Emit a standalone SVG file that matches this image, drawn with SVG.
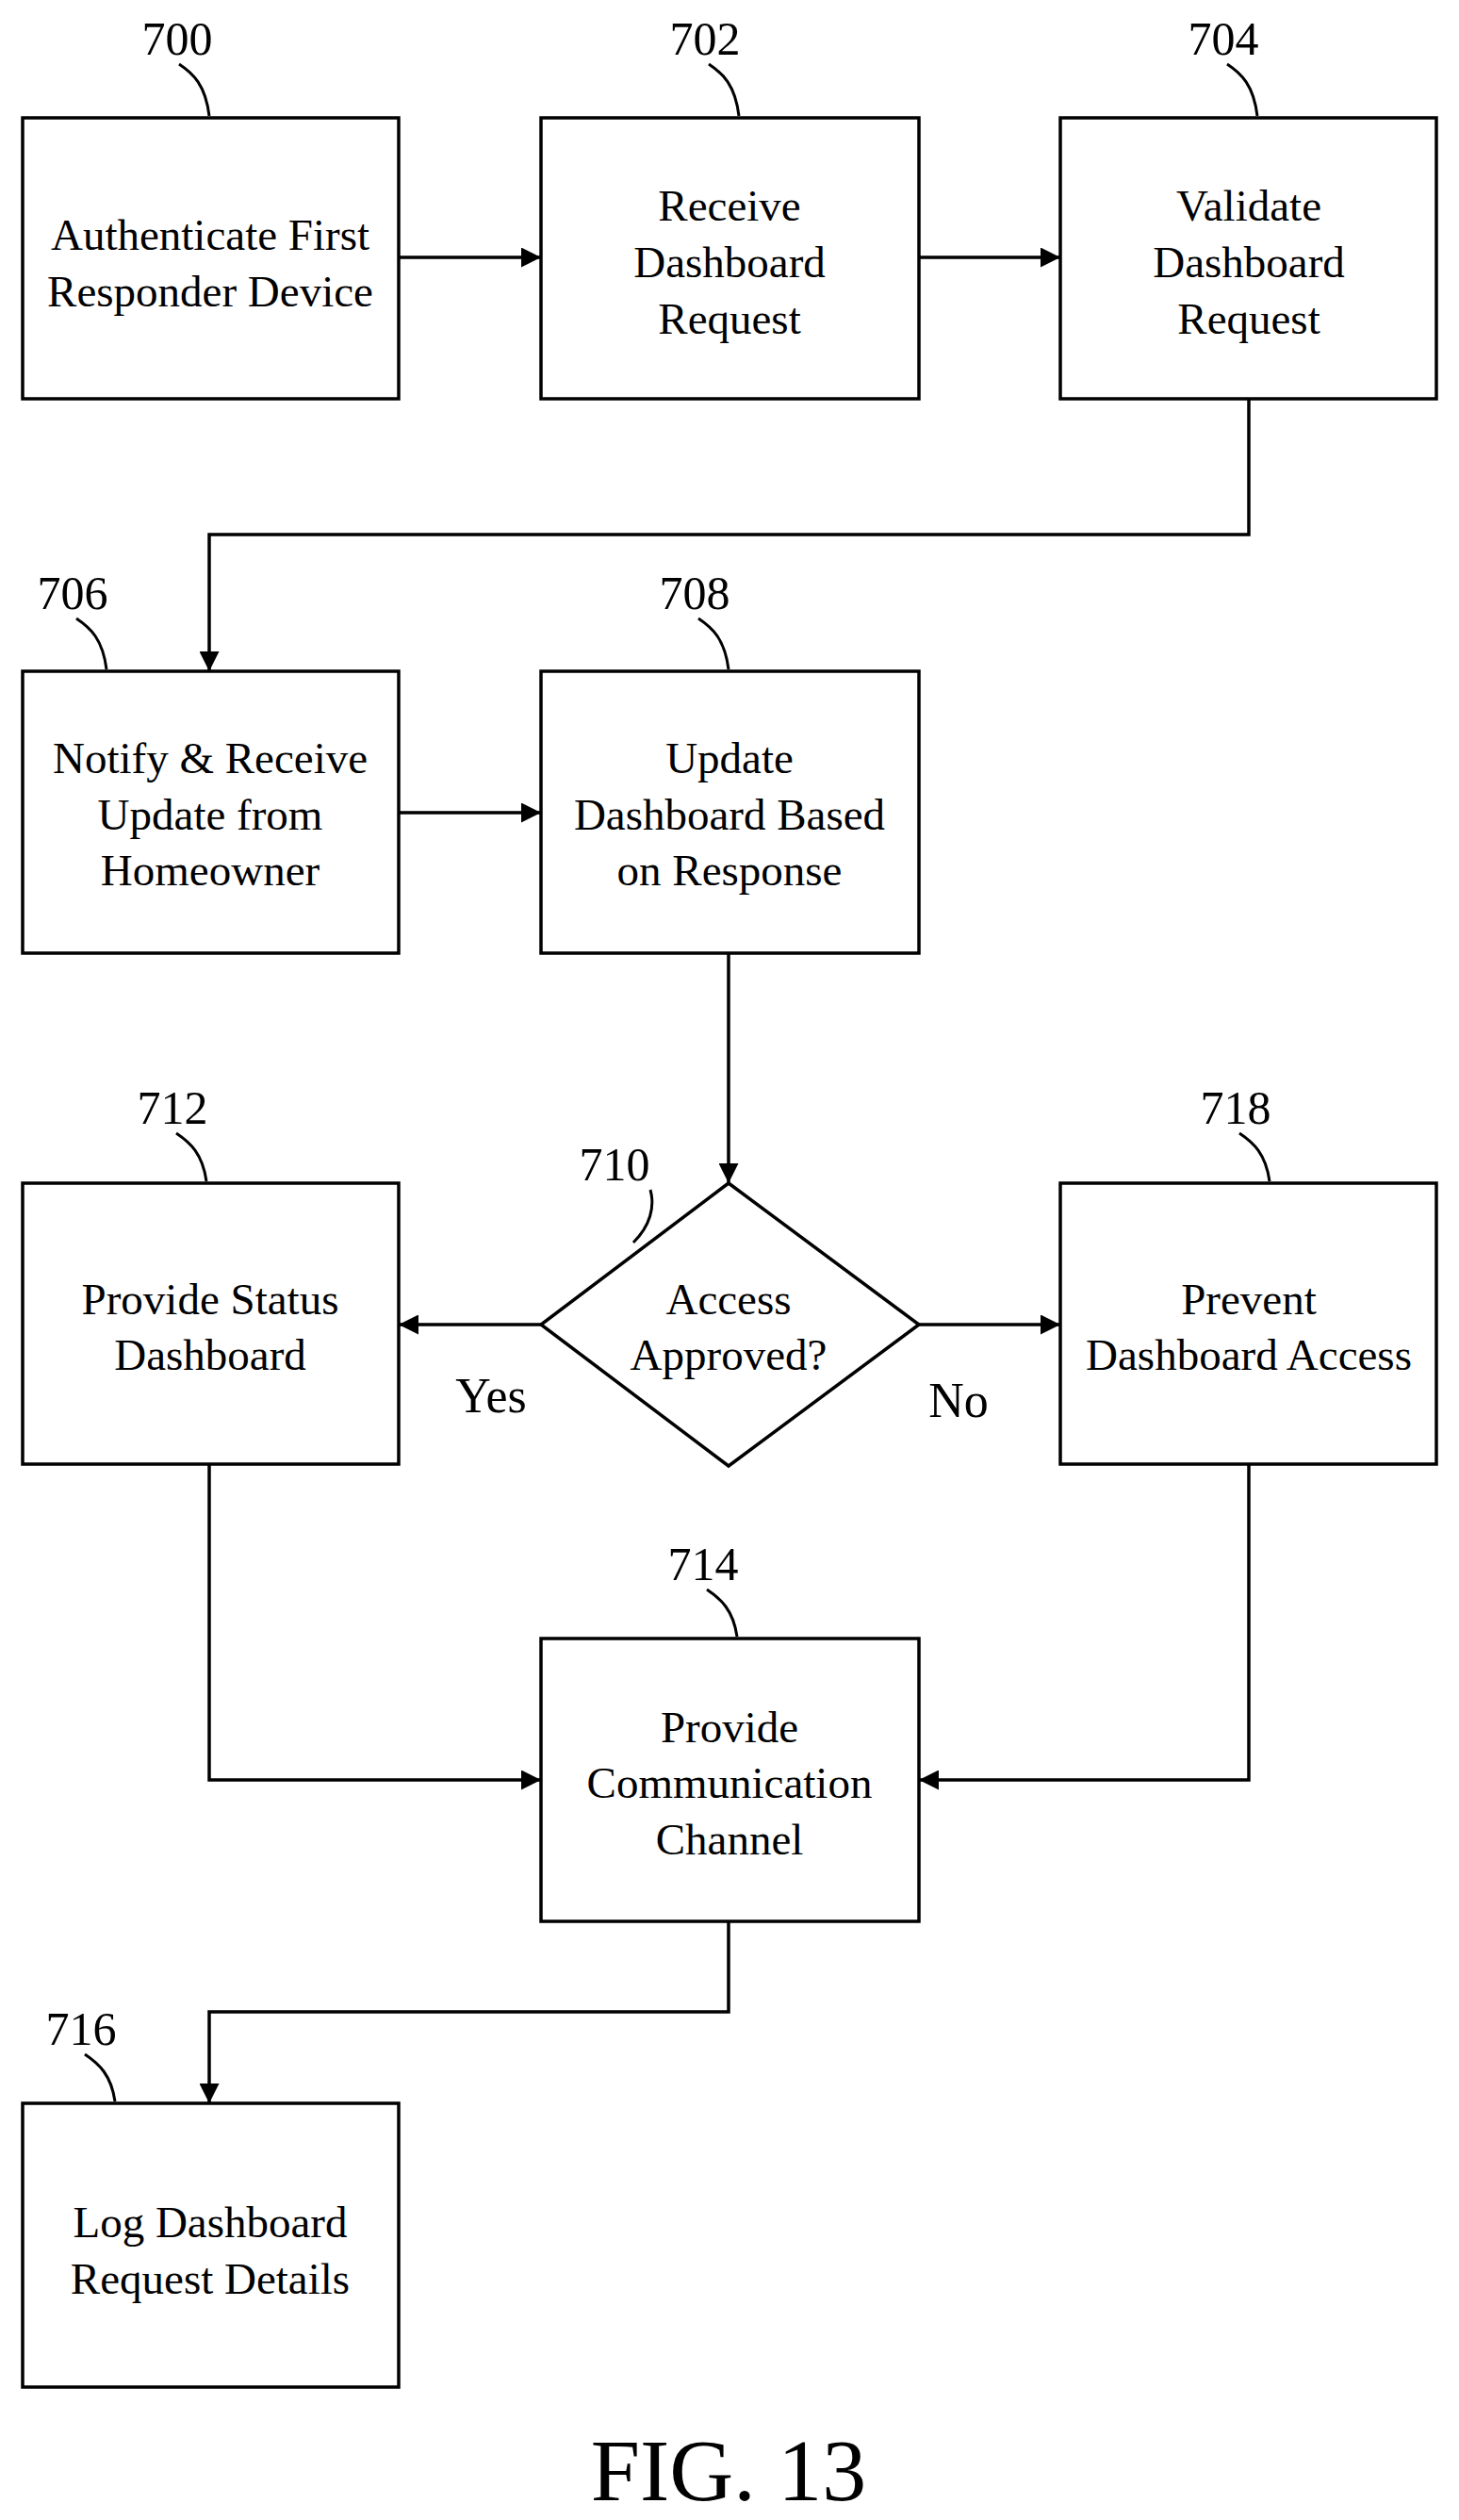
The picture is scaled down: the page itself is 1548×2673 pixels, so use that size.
<svg xmlns="http://www.w3.org/2000/svg" width="1548" height="2673" viewBox="0 0 1548 2673">
<style>
.b{fill:#fff;stroke:#000;stroke-width:3.5}
.t{font-family:"Liberation Serif",serif;font-size:47px;text-anchor:middle;dominant-baseline:central;fill:#000}
.y{font-family:"Liberation Serif",serif;font-size:52px;text-anchor:middle;dominant-baseline:central;fill:#000}
.n{font-family:"Liberation Serif",serif;font-size:50px;text-anchor:middle;dominant-baseline:central;fill:#000}
.c{fill:none;stroke:#000;stroke-width:3.5}
.l{fill:none;stroke:#000;stroke-width:3}
</style>
<defs><marker id="a" viewBox="0 0 10 10" refX="10" refY="5" markerWidth="8" markerHeight="6" orient="auto" markerUnits="strokeWidth"><path d="M0,0L10,5L0,10z" fill="#000"/></marker></defs>
<rect width="1548" height="2673" fill="#fff"/>
<g id="connectors">
<path class="c" d="M423,273H574" marker-end="url(#a)"/>
<path class="c" d="M975,273H1125" marker-end="url(#a)"/>
<path class="c" d="M1325,423V567H222V712" marker-end="url(#a)"/>
<path class="c" d="M423,862H574" marker-end="url(#a)"/>
<path class="c" d="M773,1011V1255" marker-end="url(#a)"/>
<path class="c" d="M574,1405H423" marker-end="url(#a)"/>
<path class="c" d="M975,1405H1125" marker-end="url(#a)"/>
<path class="c" d="M222,1553V1888H574" marker-end="url(#a)"/>
<path class="c" d="M1325,1553V1888H975" marker-end="url(#a)"/>
<path class="c" d="M773,2038V2134H222V2231" marker-end="url(#a)"/>
<text class="y" x="521" y="1480">Yes</text>
<text class="y" x="1017" y="1485">No</text>
</g>
<g id="n700"><rect class="b" x="24" y="125" width="399" height="298"/><text class="t" x="223" y="249">Authenticate First</text><text class="t" x="223" y="309">Responder Device</text><text class="n" x="188" y="41">700</text><path class="l" d="M190,68C205,78 218,90 222,123"/></g>
<g id="n702"><rect class="b" x="574" y="125" width="401" height="298"/><text class="t" x="774" y="218">Receive</text><text class="t" x="774" y="278">Dashboard</text><text class="t" x="774" y="338">Request</text><text class="n" x="748" y="41">702</text><path class="l" d="M752,68C767,78 780,90 784,123"/></g>
<g id="n704"><rect class="b" x="1125" y="125" width="399" height="298"/><text class="t" x="1325" y="218">Validate</text><text class="t" x="1325" y="278">Dashboard</text><text class="t" x="1325" y="338">Request</text><text class="n" x="1298" y="41">704</text><path class="l" d="M1302,68C1317,78 1330,90 1334,123"/></g>
<g id="n706"><rect class="b" x="24" y="712" width="399" height="299"/><text class="t" x="223" y="804">Notify &amp; Receive</text><text class="t" x="223" y="864">Update from</text><text class="t" x="223" y="923">Homeowner</text><text class="n" x="77" y="629">706</text><path class="l" d="M81,656C96,666 109,678 113,710"/></g>
<g id="n708"><rect class="b" x="574" y="712" width="401" height="299"/><text class="t" x="774" y="804">Update</text><text class="t" x="774" y="864">Dashboard Based</text><text class="t" x="774" y="923">on Response</text><text class="n" x="737" y="629">708</text><path class="l" d="M741,656C756,666 769,678 773,710"/></g>
<g id="n710"><path class="b" d="M773,1255L975,1405L773,1555L574,1405Z"/><text class="t" x="773" y="1378">Access</text><text class="t" x="773" y="1437">Approved?</text><text class="n" x="652" y="1235">710</text><path class="l" d="M690,1262C695,1280 690,1300 672,1318"/></g>
<g id="n712"><rect class="b" x="24" y="1255" width="399" height="298"/><text class="t" x="223" y="1378">Provide Status</text><text class="t" x="223" y="1437">Dashboard</text><text class="n" x="183" y="1175">712</text><path class="l" d="M187,1202C202,1212 215,1224 219,1253"/></g>
<g id="n718"><rect class="b" x="1125" y="1255" width="399" height="298"/><text class="t" x="1325" y="1378">Prevent</text><text class="t" x="1325" y="1437">Dashboard Access</text><text class="n" x="1311" y="1175">718</text><path class="l" d="M1315,1202C1330,1212 1343,1224 1347,1253"/></g>
<g id="n714"><rect class="b" x="574" y="1738" width="401" height="300"/><text class="t" x="774" y="1832">Provide</text><text class="t" x="774" y="1891">Communication</text><text class="t" x="774" y="1951">Channel</text><text class="n" x="746" y="1659">714</text><path class="l" d="M750,1686C765,1696 778,1708 782,1736"/></g>
<g id="n716"><rect class="b" x="24" y="2231" width="399" height="301"/><text class="t" x="223" y="2357">Log Dashboard</text><text class="t" x="223" y="2417">Request Details</text><text class="n" x="86" y="2152">716</text><path class="l" d="M90,2179C105,2189 118,2201 122,2229"/></g>
<text x="773" y="2620" font-family="Liberation Serif,serif" font-size="94" text-anchor="middle" dominant-baseline="central">FIG. 13</text>
</svg>
